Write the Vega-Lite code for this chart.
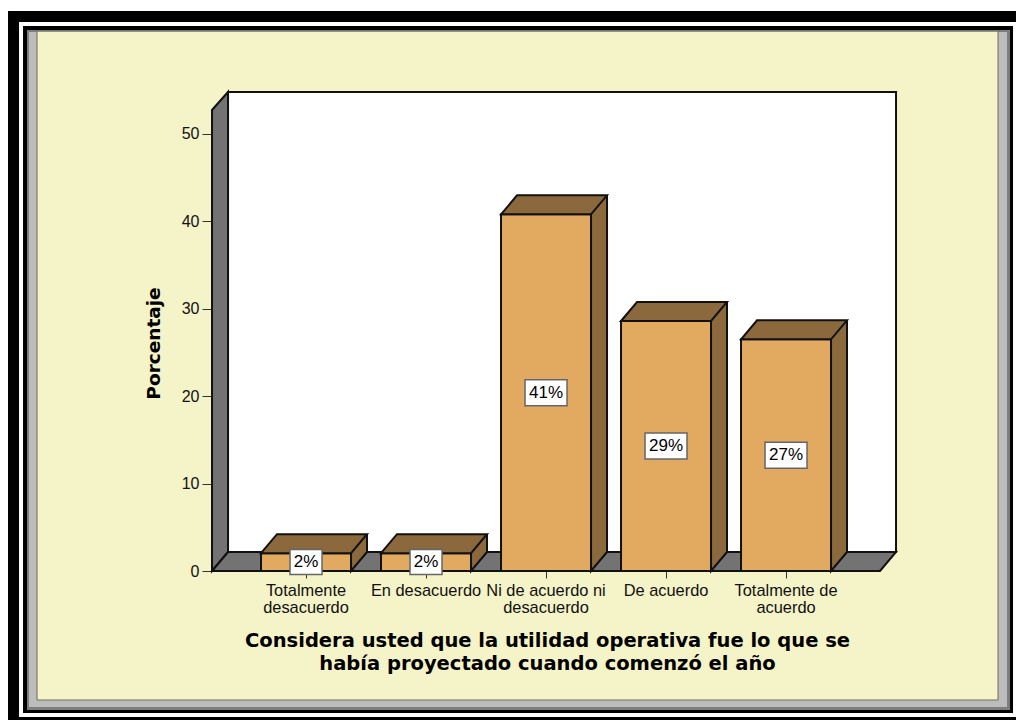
{
"$schema":"https://vega.github.io/schema/vega-lite/v6.json",
"width":684,"height":479,
"autosize":{"type":"none"},
"padding":{"left":212,"top":92,"right":120,"bottom":149},
"background":"#f5f3c8",
"config":{"view":{"stroke":null},"font":"Liberation Sans"},
"datasets":{"barras":[
{"categoria":"Totalmente desacuerdo","porcentaje":2.04,"etiqueta":"2%"},
{"categoria":"En desacuerdo","porcentaje":2.04,"etiqueta":"2%"},
{"categoria":"Ni de acuerdo ni desacuerdo","porcentaje":40.8,"etiqueta":"41%"},
{"categoria":"De acuerdo","porcentaje":28.6,"etiqueta":"29%"},
{"categoria":"Totalmente de acuerdo","porcentaje":26.5,"etiqueta":"27%"}
],"ancla":[{"pieza":"decorado"}]},
"data":{"name":"barras"},
"layer":[
{"data":{"name":"ancla"},"mark":{"type":"point","shape":"M-546,-571H470V149H-546ZM-509,-540V129H452V-540Z","size":4,"filled":true,"fill":"#ffffff","opacity":1,"strokeWidth":0},
 "encoding":{
  "x":{"datum":"Ni de acuerdo ni desacuerdo","type":"nominal",
   "scale":{"domain":["Totalmente desacuerdo","En desacuerdo","Ni de acuerdo ni desacuerdo","De acuerdo","Totalmente de acuerdo"],"paddingInner":0.25,"paddingOuter":0.475,"align":0.43},
   "axis":{"title":["Considera usted que la utilidad operativa fue lo que se","había proyectado cuando comenzó el año"],"titleFont":"DejaVu Sans","titleFontSize":19.5,"titleFontWeight":"bold","titleColor":"#000000","titleLineHeight":23,"titleX":335,"titleY":60,"titleBaseline":"top","titleAnchor":"middle","titleAlign":"center",
    "domain":false,"tickSize":7,"tickColor":"#333333","tickWidth":1,"labelAngle":0,"labelFont":"Liberation Sans","labelFontSize":16.4,"labelColor":"#111111","labelPadding":4,"labelLimit":0,"labelOverlap":false,"labelLineHeight":17,"labelBaseline":"top",
    "labelExpr":"datum.label=='Totalmente desacuerdo'?['Totalmente','desacuerdo']:datum.label=='Ni de acuerdo ni desacuerdo'?['Ni de acuerdo ni','desacuerdo']:datum.label=='Totalmente de acuerdo'?['Totalmente de','acuerdo']:datum.label"}},
  "y":{"datum":0,"type":"quantitative",
   "scale":{"domain":[0,54.8],"nice":false},
   "axis":{"title":"Porcentaje","titleFont":"DejaVu Sans","titleFontSize":18.5,"titleFontWeight":"bold","titleColor":"#000000","titleX":-49,"titleY":251,"titleAnchor":"middle",
    "values":[0,10,20,30,40,50],"domain":false,"grid":false,"tickSize":10,"tickColor":"#333333","tickWidth":1,"labelFont":"Liberation Sans","labelFontSize":16,"labelColor":"#111111","labelPadding":3}}}},
{"data":{"name":"ancla"},"mark":{"type":"point","shape":"M-538,-560H470V-549H-527V146H470V149H-538Z","size":4,"filled":true,"fill":"#000000","opacity":1,"strokeWidth":0},
 "encoding":{"x":{"datum":"Ni de acuerdo ni desacuerdo","type":"nominal"},"y":{"datum":0,"type":"quantitative"}}},
{"data":{"name":"ancla"},"mark":{"type":"point","shape":"M-523,-545H467V142H-523ZM-509,-540V129H452V-540Z","size":4,"filled":true,"fill":"#000000","opacity":1,"strokeWidth":0},
 "encoding":{"x":{"datum":"Ni de acuerdo ni desacuerdo","type":"nominal"},"y":{"datum":0,"type":"quantitative"}}},
{"data":{"name":"ancla"},"mark":{"type":"point","shape":"M-519,-541H464V139H-519ZM-509,-540V129H452V-540Z","size":4,"filled":true,"fill":"#7d7d7d","opacity":1,"strokeWidth":0},
 "encoding":{"x":{"datum":"Ni de acuerdo ni desacuerdo","type":"nominal"},"y":{"datum":0,"type":"quantitative"}}},
{"data":{"name":"ancla"},"mark":{"type":"point","shape":"M-517,-539H461V136H-517ZM-509,-540V129H452V-540Z","size":4,"filled":true,"fill":"#bcbcbc","opacity":1,"strokeWidth":0},
 "encoding":{"x":{"datum":"Ni de acuerdo ni desacuerdo","type":"nominal"},"y":{"datum":0,"type":"quantitative"}}},
{"data":{"name":"ancla"},"mark":{"type":"point","shape":"M-509,-540H452V129H-509Z","size":4,"filled":false,"fill":null,"stroke":"#6f6f55","strokeWidth":1,"opacity":1},
 "encoding":{"x":{"datum":"Ni de acuerdo ni desacuerdo","type":"nominal"},"y":{"datum":0,"type":"quantitative"}}},
{"data":{"name":"ancla"},"mark":{"type":"point","shape":"M-318,-479H350V-19H-318Z","size":4,"filled":true,"fill":"#ffffff","stroke":"#111111","strokeWidth":2,"opacity":1},
 "encoding":{"x":{"datum":"Ni de acuerdo ni desacuerdo","type":"nominal"},"y":{"datum":0,"type":"quantitative"}}},
{"data":{"name":"ancla"},"mark":{"type":"point","shape":"M-334,-461L-318,-479V-19L-334,0Z","size":4,"filled":true,"fill":"#737373","stroke":"#111111","strokeWidth":2,"opacity":1},
 "encoding":{"x":{"datum":"Ni de acuerdo ni desacuerdo","type":"nominal"},"y":{"datum":0,"type":"quantitative"}}},
{"data":{"name":"ancla"},"mark":{"type":"point","shape":"M-334,0L-318,-19H350L334,0Z","size":4,"filled":true,"fill":"#737373","stroke":"#111111","strokeWidth":2,"opacity":1},
 "encoding":{"x":{"datum":"Ni de acuerdo ni desacuerdo","type":"nominal"},"y":{"datum":0,"type":"quantitative"}}},
{"mark":{"type":"bar","width":16,"xOffset":53,"yOffset":-19,"y2Offset":-19,"fill":"#8c693c"},
 "encoding":{"x":{"field":"categoria","type":"nominal"},"y":{"field":"porcentaje","type":"quantitative"},"y2":{"datum":0}}},
{"mark":{"type":"bar","width":2,"xOffset":61,"yOffset":-19,"y2Offset":-19,"fill":"#111111"},
 "encoding":{"x":{"field":"categoria","type":"nominal"},"y":{"field":"porcentaje","type":"quantitative"},"y2":{"datum":0}}},
{"mark":{"type":"point","shape":"M45,-19V0L61,-19","size":4,"filled":true,"fill":"#8c693c","stroke":"#111111","strokeWidth":2,"opacity":1},
 "encoding":{"x":{"field":"categoria","type":"nominal"},"y":{"datum":0,"type":"quantitative"}}},
{"mark":{"type":"bar","fill":"#e2a960","stroke":"#111111","strokeWidth":2},
 "encoding":{"x":{"field":"categoria","type":"nominal"},"y":{"field":"porcentaje","type":"quantitative"}}},
{"mark":{"type":"point","shape":"M-45,0L-29,-19H61L45,0Z","size":4,"filled":true,"fill":"#8c693c","stroke":"#111111","strokeWidth":2,"opacity":1},
 "encoding":{"x":{"field":"categoria","type":"nominal"},"y":{"field":"porcentaje","type":"quantitative"}}},
{"transform":[{"calculate":"datum.porcentaje/2","as":"centro"}],
 "layer":[
 {"mark":{"type":"point","size":4,"filled":true,"fill":"#ffffff","stroke":"#666666","strokeWidth":1.5,"opacity":1},
  "encoding":{"x":{"field":"categoria","type":"nominal"},"y":{"field":"centro","type":"quantitative"},
   "shape":{"field":"etiqueta","type":"nominal","legend":null,"scale":{"domain":["2%","41%","29%","27%"],"range":["M-16,-12.5H16V12.5H-16Z","M-21,-13H21V13H-21Z","M-21,-13H21V13H-21Z","M-21,-13H21V13H-21Z"]}}}},
 {"mark":{"type":"text","font":"Liberation Sans","fontSize":17,"color":"#000000","align":"center","baseline":"middle"},
  "encoding":{"x":{"field":"categoria","type":"nominal"},"y":{"field":"centro","type":"quantitative"},"text":{"field":"etiqueta"}}}
 ]}
]}
